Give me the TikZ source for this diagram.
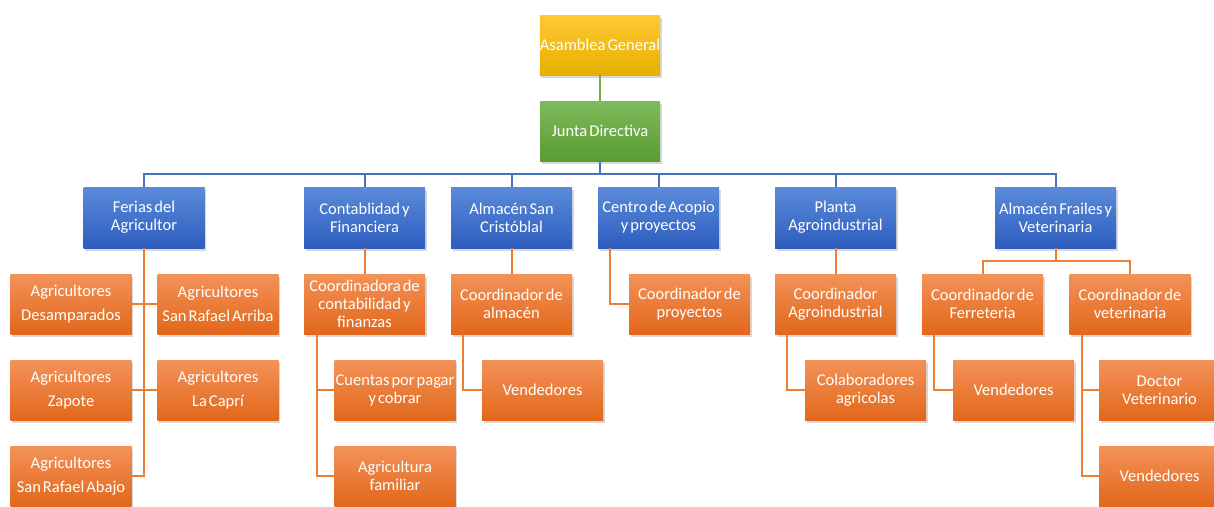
\documentclass[tikz,border=0pt]{standalone}
\usepackage{fontspec}
\setmainfont{Carlito}[WordSpace=0.55]
\usetikzlibrary{shadows}
\definecolor{gtop}{HTML}{FFC933}
\definecolor{gbot}{HTML}{E6B000}
\definecolor{grtop}{HTML}{7EBB5C}
\definecolor{grbot}{HTML}{5A9B32}
\definecolor{btop}{HTML}{5B8BD9}
\definecolor{bbot}{HTML}{2D5DBE}
\definecolor{otop}{HTML}{F39258}
\definecolor{obot}{HTML}{E2671B}
\definecolor{lblue}{HTML}{4472C4}
\definecolor{lorange}{HTML}{ED7D31}
\definecolor{lgreen}{HTML}{70AD47}
\tikzset{
  box/.style={rectangle, minimum width=121pt, minimum height=60pt, inner sep=0pt,
    align=center, text=white, font=\fontsize{16.5}{18}\selectfont,
    drop shadow={opacity=0.3, shadow xshift=1.5pt, shadow yshift=-2.5pt}},
  goldbox/.style={box, top color=gtop, bottom color=gbot, minimum width=120pt},
  greenbox/.style={box, top color=grtop, bottom color=grbot, minimum width=120pt},
  bluebox/.style={box, top color=btop, bottom color=bbot, minimum height=61pt},
  orangebox/.style={box, top color=otop, bottom color=obot},
  agbox/.style={orangebox, font=\fontsize{16.5}{24}\selectfont},
  bline/.style={draw=lblue, line width=2pt},
  oline/.style={draw=lorange, line width=2pt},
  gline/.style={draw=lgreen, line width=2pt}
}
\begin{document}
\begin{tikzpicture}[x=1pt,y=-1pt]
\useasboundingbox[fill=white] (0,0) rectangle (1214,506);
\coordinate (bus) at (600,174);
\coordinate (fbus) at (1055.5,261);
% nodes
\node[goldbox] (asamblea) at (600,45) {Asamblea General};
\node[greenbox] (junta) at (600,131) {Junta Directiva};
\node[bluebox] (ferias) at (144,217.5) {Ferias del\\Agricultor};
\node[bluebox] (contab) at (364.5,217.5) {Contablidad y\\Financiera};
\node[bluebox] (almsc) at (511.5,217.5) {Almacén San\\Cristóblal};
\node[bluebox] (centro) at (658.5,217.5) {Centro de Acopio\\y proyectos};
\node[bluebox] (planta) at (835.5,217.5) {Planta\\Agroindustrial};
\node[bluebox] (frailes) at (1055.5,217.5) {Almacén Frailes y\\Veterinaria};
\node[agbox] (agdes) at (71,304) {Agricultores\\Desamparados};
\node[agbox] (agsra) at (218,304) {Agricultores\\San Rafael Arriba};
\node[agbox] (agzap) at (71,390) {Agricultores\\Zapote};
\node[agbox] (agcap) at (218,390) {Agricultores\\La Caprí};
\node[agbox] (agsrab) at (71,476) {Agricultores\\San Rafael Abajo};
\node[orangebox] (coordcont) at (364.5,304) {Coordinadora de\\contabilidad y\\finanzas};
\node[orangebox] (cuentas) at (395,390) {Cuentas por pagar\\y cobrar};
\node[orangebox] (agrfam) at (395,476) {Agricultura\\familiar};
\node[orangebox] (coordalm) at (511.5,304) {Coordinador de\\almacén};
\node[orangebox] (vendalm) at (542.5,390) {Vendedores};
\node[orangebox] (coordproy) at (689.5,304) {Coordinador de\\proyectos};
\node[orangebox] (coordagro) at (835.5,304) {Coordinador\\Agroindustrial};
\node[orangebox] (colab) at (865.5,390) {Colaboradores\\agricolas};
\node[orangebox] (coordferr) at (982.5,304) {Coordinador de\\Ferreteria};
\node[orangebox] (coordvet) at (1130,304) {Coordinador de\\veterinaria};
\node[orangebox] (vendferr) at (1013.5,390) {Vendedores};
\node[orangebox] (docvet) at (1159.5,390) {Doctor\\Veterinario};
\node[orangebox] (vendvet) at (1159.5,476) {Vendedores};
% connectors
\draw[gline] (asamblea.south) -- (junta.north);
\draw[bline] (junta.south) -- (bus);
\foreach \n in {ferias,contab,almsc,centro,planta,frailes}
  \draw[bline] (bus) -| (\n.north);
\draw[oline] (ferias.south) |- (agsrab.east);
\draw[oline] (agdes.east) -- (agsra.west);
\draw[oline] (agzap.east) -- (agcap.west);
\draw[oline] (contab.south) -- (coordcont.north);
\draw[oline] ([xshift=-47.5pt]coordcont.south) |- (cuentas.west);
\draw[oline] ([xshift=-47.5pt]coordcont.south) |- (agrfam.west);
\draw[oline] (almsc.south) -- (coordalm.north);
\draw[oline] ([xshift=-48.5pt]coordalm.south) |- (vendalm.west);
\draw[oline] ([xshift=-48.5pt]centro.south) |- (coordproy.west);
\draw[oline] (planta.south) -- (coordagro.north);
\draw[oline] ([xshift=-48.5pt]coordagro.south) |- (colab.west);
\draw[oline] (frailes.south) -- (fbus);
\draw[oline] (fbus) -| (coordferr.north);
\draw[oline] (fbus) -| (coordvet.north);
\draw[oline] ([xshift=-48.5pt]coordferr.south) |- (vendferr.west);
\draw[oline] ([xshift=-48pt]coordvet.south) |- (docvet.west);
\draw[oline] ([xshift=-48pt]coordvet.south) |- (vendvet.west);
\end{tikzpicture}
\end{document}
